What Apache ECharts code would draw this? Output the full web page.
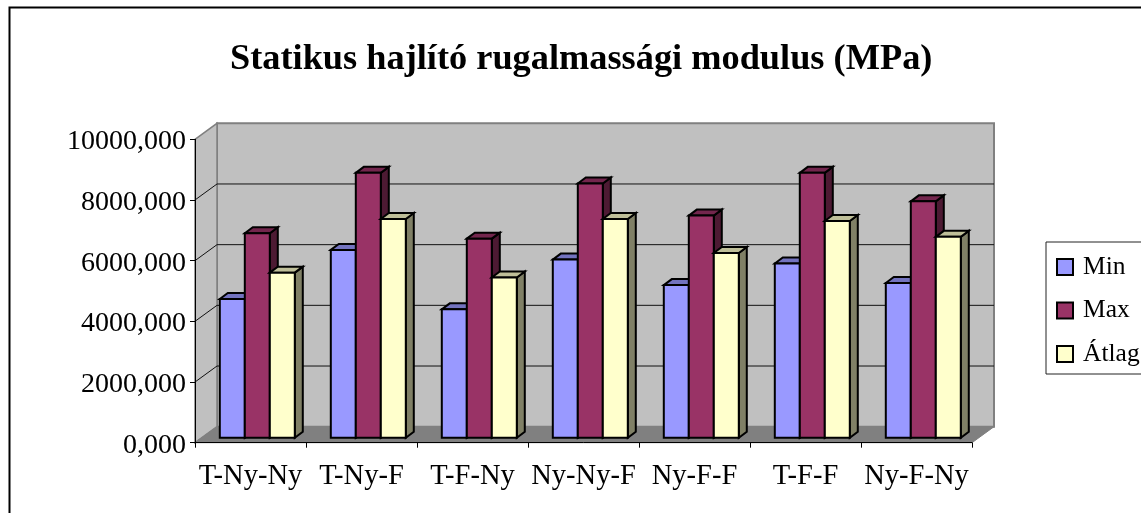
<!DOCTYPE html>
<html>
<head>
<meta charset="utf-8">
<style>html,body{margin:0;padding:0;background:#fff}#c{width:1141px;height:513px}</style>
<script src="https://cdn.jsdelivr.net/npm/echarts@6/dist/echarts.min.js"></script>
</head>
<body>
<div id="c"></div>
<script>
var categories = ['T-Ny-Ny','T-Ny-F','T-F-Ny','Ny-Ny-F','Ny-F-F','T-F-F','Ny-F-Ny'];
var minValues  = [4570,6190,4230,5870,5030,5740,5100];
var maxValues  = [6740,8730,6560,8380,7320,8730,7790];
var avgValues  = [5440,7210,5280,7210,6090,7140,6620];
var gridTicks  = [0,2000,4000,6000,8000,10000];
var seriesNames = ['Min','Max','Átlag'];
var faceColors = ['#9999FF','#993366','#FFFFCC'];
var topColors  = ['#7373BF','#73264D','#BFBF99'];
var sideColors = ['#4D4D80','#4D1A33','#808066'];

var WALL_DX = 22, WALL_DY = 16;   // depth of the floor
var BAR_DX = 6.8, BAR_DY = 5;     // bar set back from front plane
var DEPTH_DX = 8, DEPTH_DY = 6;   // depth of a bar
var BAR_FRAC = 0.2252;

function pts(a){ return {points:a}; }

function renderBackground(params, api){
  var cs = params.coordSys;
  var l = cs.x, r = cs.x + cs.width, t = cs.y, b = cs.y + cs.height;
  var kids = [];
  kids.push({type:'polygon',shape:pts([[l+WALL_DX,t-WALL_DY],[r+WALL_DX,t-WALL_DY],[r+WALL_DX,b-WALL_DY],[l+WALL_DX,b-WALL_DY]]),
    style:{fill:'#C0C0C0',stroke:'#808080',lineWidth:2}});
  kids.push({type:'polygon',shape:pts([[l,t],[l+WALL_DX,t-WALL_DY],[l+WALL_DX,b-WALL_DY],[l,b]]),
    style:{fill:'#C0C0C0',stroke:'#808080',lineWidth:1.5}});
  kids.push({type:'polygon',shape:pts([[l,b],[r,b],[r+WALL_DX,b-WALL_DY],[l+WALL_DX,b-WALL_DY]]),
    style:{fill:'#808080',stroke:'#808080',lineWidth:1}});
  gridTicks.forEach(function(v){
    if (v === 0 || v === 10000) return;
    var y = api.coord([0,v])[1];
    kids.push({type:'polyline',shape:pts([[l,y],[l+WALL_DX,y-WALL_DY],[r+WALL_DX,y-WALL_DY]]),
      style:{fill:'none',stroke:'#111',lineWidth:1}});
  });
  return {type:'group',children:kids};
}

function makeBarRenderer(si){
  return function(params, api){
    var cat = api.value(0), val = api.value(1);
    var base = api.coord([cat,0]), top = api.coord([cat,val]);
    var w = api.size([1,0])[0] * BAR_FRAC;
    var x0 = base[0] + BAR_DX + (si - 1.5) * w;
    var x1 = x0 + w;
    var y0 = top[1] - BAR_DY, y1 = base[1] - BAR_DY;
    var st = function(c){ return {fill:c,stroke:'#000',lineWidth:2,lineJoin:'miter'}; };
    return {type:'group',children:[
      {type:'polygon',shape:pts([[x1,y0],[x1+DEPTH_DX,y0-DEPTH_DY],[x1+DEPTH_DX,y1-DEPTH_DY],[x1,y1]]),style:st(sideColors[si])},
      {type:'polygon',shape:pts([[x0,y0],[x0+DEPTH_DX,y0-DEPTH_DY],[x1+DEPTH_DX,y0-DEPTH_DY],[x1,y0]]),style:st(topColors[si])},
      {type:'polygon',shape:pts([[x0,y0],[x1,y0],[x1,y1],[x0,y1]]),style:st(faceColors[si])}
    ]};
  };
}

var series = [{type:'custom',name:'bg',silent:true,clip:false,z:1,coordinateSystem:'cartesian2d',
  renderItem:renderBackground,data:[[0,0]],encode:{x:0,y:1}}];
[minValues,maxValues,avgValues].forEach(function(vals,si){
  series.push({type:'custom',name:seriesNames[si],clip:false,z:3+si,coordinateSystem:'cartesian2d',
    itemStyle:{color:faceColors[si]},renderItem:makeBarRenderer(si),
    data:vals.map(function(v,i){return [i,v];}),encode:{x:0,y:1}});
});

var FONT = '"Liberation Serif","Times New Roman",serif';
var chart = echarts.init(document.getElementById('c'),null,{renderer:'canvas'});
chart.setOption({
  animation:false,
  backgroundColor:'#fff',
  title:{text:'Statikus hajlító rugalmassági modulus (MPa)',left:225,top:36.5,
    textStyle:{fontFamily:FONT,fontWeight:'bold',fontSize:36.35,color:'#000'}},
  legend:{orient:'vertical',left:1046,top:242,padding:[12,30,7,10],itemWidth:16,itemHeight:16,itemGap:17.5,
    borderColor:'#222',borderWidth:1,backgroundColor:'#fff',icon:'rect',
    textStyle:{fontFamily:FONT,fontSize:25.5,color:'#000',lineHeight:25,padding:[0,0,0,5]},
    data:seriesNames.map(function(n,i){return {name:n,itemStyle:{color:faceColors[i],borderColor:'#000',borderWidth:2}};})},
  grid:{left:195,right:169,top:139.3,height:303.4},
  xAxis:{type:'category',data:categories,z:10,
    axisLine:{lineStyle:{color:'#000',width:1}},
    axisTick:{show:true,length:5,lineStyle:{color:'#000'}},
    axisLabel:{interval:0,margin:19,fontFamily:FONT,fontSize:28.5,color:'#000'}},
  yAxis:{type:'value',min:0,max:10000,interval:2000,z:10,
    axisLine:{show:true,lineStyle:{color:'#000',width:1}},
    axisTick:{show:true,length:5,lineStyle:{color:'#000'}},
    splitLine:{show:false},
    axisLabel:{margin:9,color:'#000',
      rich:{a:{fontFamily:FONT,fontSize:28,color:'#000',padding:[5,0,0,0]}},
      formatter:function(v){return '{a|'+v.toFixed(3).replace('.',',')+'}';}}},
  series:series,
  graphic:[{type:'polyline',silent:true,shape:{points:[[9.5,513],[9.5,7.5],[1141,7.5]]},
    style:{fill:'none',stroke:'#000',lineWidth:2}}]
});
</script>
</body>
</html>
